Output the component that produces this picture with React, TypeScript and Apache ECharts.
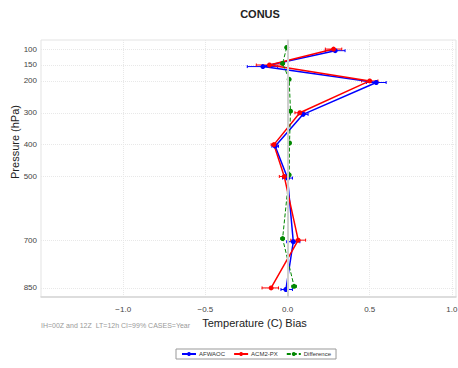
import React, { useEffect, useRef } from "react";
import * as echarts from "echarts";

// Pressure levels (hPa)
const levels = [100, 150, 200, 300, 400, 500, 700, 850];

// AFWAOC bias and CI bounds
const afwaoc = [0.29, -0.15, 0.54, 0.095, -0.075, 0.0, 0.035, -0.01];
const afwaocLo = [0.23, -0.245, 0.48, 0.065, -0.095, -0.03, -0.005, -0.04];
const afwaocHi = [0.35, -0.06, 0.6, 0.125, -0.055, 0.03, 0.075, 0.03];

// ACM2-PX bias and CI bounds
const acm2 = [0.28, -0.11, 0.5, 0.075, -0.083, -0.02, 0.065, -0.1];
const acm2Lo = [0.23, -0.19, 0.45, 0.045, -0.1, -0.05, 0.02, -0.155];
const acm2Hi = [0.33, -0.03, 0.55, 0.105, -0.065, 0.01, 0.11, -0.055];

// Difference and CI bounds
const diff = [-0.005, -0.03, 0.01, 0.018, 0.012, 0.01, -0.03, 0.04];
const diffLo = [-0.012, -0.04, 0.003, 0.01, 0.005, 0.002, -0.04, 0.026];
const diffHi = [0.002, -0.02, 0.017, 0.026, 0.019, 0.018, -0.02, 0.054];

const xTicks = [-1.0, -0.5, 0.0, 0.5, 1.0];
const yTicks = [100, 150, 200, 300, 400, 500, 700, 850];

const FONT = "Liberation Sans, Arial, sans-serif";

export default function App() {
  const ref = useRef<HTMLDivElement>(null);
  useEffect(() => {
    if (!ref.current) return;
    const chart = echarts.init(ref.current, null, { renderer: "svg" });

    const mk = (
      name: string,
      color: string,
      vals: number[],
      lo: number[],
      hi: number[],
      off: number,
      dashed: boolean
    ) => {
      const line = {
        name,
        type: "line",
        data: vals.map((v, i) => [v, levels[i] + off]),
        symbol: "circle",
        symbolSize: 5,
        itemStyle: { color },
        lineStyle: { color, width: dashed ? 1 : 1.5, type: dashed ? [4, 2] : "solid" },
        z: 4,
      };
      const err = {
        name,
        type: "custom",
        data: vals.map((_, i) => [lo[i], hi[i], levels[i] + off]),
        encode: { x: [0, 1], y: 2 },
        renderItem: (_p: any, api: any) => {
          const a = api.coord([api.value(0), api.value(2)]);
          const b = api.coord([api.value(1), api.value(2)]);
          const st = { stroke: color, lineWidth: 1 };
          return {
            type: "group",
            children: [
              { type: "line", shape: { x1: a[0], y1: a[1], x2: b[0], y2: b[1] }, style: st },
              { type: "line", shape: { x1: a[0], y1: a[1] - 1.5, x2: a[0], y2: a[1] + 1.5 }, style: st },
              { type: "line", shape: { x1: b[0], y1: b[1] - 1.5, x2: b[0], y2: b[1] + 1.5 }, style: st },
            ],
          };
        },
        z: 3,
      };
      return [line, err];
    };

    const fmt = (v: number) => v.toFixed(1).replace("-", "\u2212");

    chart.setOption({
      animation: false,
      textStyle: { fontFamily: FONT },
      title: {
        text: "CONUS",
        left: 255,
        top: 3,
        textAlign: "center",
        textStyle: { fontFamily: FONT, fontSize: 11, fontWeight: "bold", color: "#222" },
      },
      legend: {
        left: 176,
        top: 349,
        data: ["AFWAOC", "ACM2-PX", "Difference"],
        itemWidth: 14,
        itemHeight: 5,
        itemGap: 8,
        padding: [2, 5],
        borderColor: "#999",
        borderWidth: 1,
        textStyle: { fontFamily: FONT, fontSize: 6, color: "#333", padding: [0, 0, 0, -2] },
      },
      grid: {
        left: 41,
        right: 2,
        top: 40,
        bottom: 71,
        outerBoundsMode: "none",
        containLabel: false,
        show: true,
        borderColor: "#e3e3e3",
        borderWidth: 1,
      },
      xAxis: {
        type: "value",
        min: -1.5,
        max: 1.025,
        axisLine: { show: true, lineStyle: { color: "#d6d6d6", width: 1.5 } },
        axisTick: { show: false, customValues: xTicks },
        axisLabel: {
          customValues: xTicks,
          formatter: fmt,
          fontFamily: FONT,
          fontSize: 8,
          color: "#444",
          margin: 8,
          hideOverlap: false,
        },
        splitLine: { show: true, lineStyle: { color: "#e8e8e8", type: "dotted" } },
        name: "Temperature (C) Bias",
        nameLocation: "middle",
        nameGap: 18,
        nameTextStyle: { fontFamily: FONT, fontSize: 11, color: "#222", padding: [0, 0, 0, 12] },
      },
      yAxis: {
        type: "value",
        inverse: true,
        min: 71.5,
        max: 878.5,
        axisLine: { show: true, lineStyle: { color: "#d6d6d6", width: 1.5 } },
        axisTick: { show: false, customValues: yTicks },
        axisLabel: {
          customValues: yTicks,
          fontFamily: FONT,
          fontSize: 8,
          color: "#444",
          margin: 4,
        },
        splitLine: { show: true, lineStyle: { color: "#e8e8e8", type: "dotted" } },
      },
      graphic: [
        {
          type: "text",
          x: 15,
          y: 142,
          rotation: Math.PI / 2,
          style: {
            text: "Pressure (hPa)",
            fontFamily: FONT,
            fontSize: 11,
            fill: "#222",
            align: "center",
            verticalAlign: "middle",
          },
        },
        {
          type: "text",
          left: 41,
          top: 322,
          style: {
            text: "IH=00Z and 12Z  LT=12h CI=99% CASES=Year",
            fontFamily: FONT,
            fontSize: 7,
            fill: "#999",
          },
        },
      ],
      series: [
        {
          type: "line",
          data: [],
          silent: true,
          markLine: {
            silent: true,
            symbol: "none",
            label: { show: false },
            lineStyle: { color: "#cfcfcf", width: 2, type: "solid" },
            data: [{ xAxis: 0 }],
          },
          z: 1,
        },
        ...mk("AFWAOC", "#0000ff", afwaoc, afwaocLo, afwaocHi, 5, false),
        ...mk("ACM2-PX", "#ff0000", acm2, acm2Lo, acm2Hi, 0, false),
        ...mk("Difference", "#008800", diff, diffLo, diffHi, -5, true),
      ],
    });
    return () => chart.dispose();
  }, []);
  return (
    <div
      ref={ref}
      style={{ position: "absolute", left: 0, top: 0, width: 458, height: 368 }}
    />
  );
}
